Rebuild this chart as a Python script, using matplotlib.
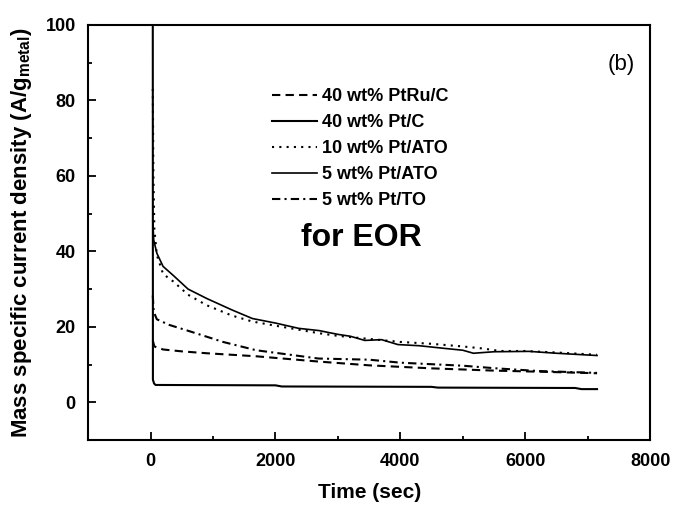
import matplotlib
matplotlib.use("Agg")
import matplotlib.pyplot as plt

# time (sec) and current density (A/g_metal)
t_ptru = [35, 60, 200, 500, 900, 1690, 2690, 3500, 4500, 5500, 6500, 7150]
j_ptru = [16.4, 14.8, 14.0, 13.5, 13.0, 12.2, 10.8, 9.8, 9.0, 8.4, 8.0, 7.7]

t_ptc = [35, 37, 55, 80, 2000, 2100, 4500, 4600, 6800, 6900, 7150]
j_ptc = [100, 6.0, 5.0, 4.6, 4.5, 4.2, 4.1, 3.9, 3.8, 3.5, 3.5]

t_ato10 = [35, 45, 60, 100, 200, 364, 600, 900, 1300, 1630, 2000, 2700, 3000,
           3500, 4000, 4500, 5000, 5300, 5600, 6000, 6500, 7150]
j_ato10 = [83, 60, 46, 39, 34, 32, 28.5, 25.7, 23, 21.4, 20.3, 18.3, 17.6,
           16.8, 16.0, 15.5, 14.8, 14.3, 13.6, 13.6, 13.2, 12.6]

t_ato5 = [35, 50, 100, 200, 364, 600, 900, 1300, 1630, 2000, 2370, 2700, 3000,
          3200, 3430, 3700, 3960, 4300, 4700, 5000, 5170, 5500, 6060, 6500, 7150]
j_ato5 = [48, 43, 39.5, 36, 33.6, 30, 27.5, 24.5, 22.2, 21, 19.6, 19, 18,
          17.5, 16.4, 16.6, 15.3, 15, 14.3, 13.8, 13, 13.4, 13.5, 13, 12.4]

t_to5 = [35, 50, 100, 300, 630, 1160, 1690, 2690, 3500, 4000, 5000, 5540, 6200, 7150]
j_to5 = [28.3, 24, 22, 20.5, 18.8, 16, 13.8, 11.6, 11.3, 10.5, 9.7, 9.0, 8.3, 7.8]

labels = ["40 wt% PtRu/C", "40 wt% Pt/C", "10 wt% Pt/ATO", "5 wt% Pt/ATO", "5 wt% Pt/TO"]

plt.rcParams['font.family'] = ['Liberation Sans', 'DejaVu Sans']
plt.rcParams['mathtext.default'] = 'regular'

fig = plt.figure(figsize=(6.73, 5.07), dpi=100)
ax = fig.add_axes([0.131, 0.132, 0.835, 0.819])

lw = 1.5
ax.plot(t_ptru, j_ptru, color='k', lw=lw, ls=(0, (4, 2.5)), label=labels[0])
ax.plot(t_ptc, j_ptc, color='k', lw=lw, ls='-', label=labels[1])
ax.plot(t_ato10, j_ato10, color='k', lw=lw, ls=(0, (1, 2.5)), label=labels[2])
ax.plot(t_ato5, j_ato5, color='k', lw=1.2, ls='-', label=labels[3])
ax.plot(t_to5, j_to5, color='k', lw=lw, ls=(0, (4, 2, 1, 2)), label=labels[4])

ax.set_xlim(-1000, 8000)
ax.set_ylim(-10, 100)
ax.set_xticks([0, 2000, 4000, 6000, 8000])
ax.set_xticks([-1000, 1000, 3000, 5000, 7000], minor=True)
ax.set_yticks([0, 20, 40, 60, 80, 100])
ax.set_yticks([-10, 10, 30, 50, 70, 90], minor=True)
ax.tick_params(direction='in', which='major', length=6, width=1.3,
               labelsize=13, pad=9)
ax.tick_params(direction='in', which='minor', length=3, width=1.3)
for lab in ax.get_xticklabels() + ax.get_yticklabels():
    lab.set_fontweight('bold')
for s in ax.spines.values():
    s.set_linewidth(1.5)

ax.set_xlabel("Time (sec)", fontsize=15, fontweight='bold', labelpad=10)
ax.set_ylabel(r"Mass specific current density (A/g$_{metal}$)", fontsize=16,
              fontweight='bold', labelpad=8)

leg = ax.legend(loc='upper left', bbox_to_anchor=(0.311, 0.870), frameon=False,
                prop={'weight': 'bold', 'size': 13}, handlelength=2.5,
                handletextpad=0.25, labelspacing=0.5, borderpad=0)

ax.text(0.486, 0.487, "for EOR", transform=ax.transAxes, ha='center', va='center',
        fontsize=23, fontweight='bold')
ax.text(0.948, 0.904, "(b)", transform=ax.transAxes, ha='center', va='center',
        fontsize=16)

fig.savefig("out.png", dpi=100)
